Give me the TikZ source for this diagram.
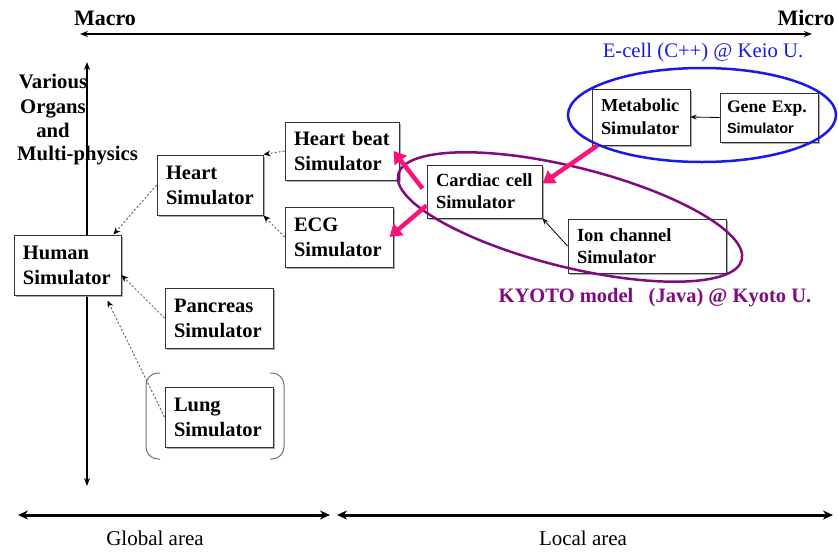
\documentclass[tikz,border=0pt]{standalone}
\usepackage{fontspec}
\setmainfont{Liberation Serif}
\newfontfamily\simsans{Liberation Sans}
\usetikzlibrary{arrows.meta,shadows}

\definecolor{ecellblue}{RGB}{25,25,235}
\definecolor{kyotopurple}{RGB}{128,10,128}
\definecolor{feedpink}{RGB}{250,20,120}

\tikzset{
  simbox/.style={draw=black!80, line width=1pt, fill=white, align=left,
    inner xsep=9pt, inner ysep=3pt, font=\bfseries\fontsize{20.5}{25}\selectfont,
    drop shadow={shadow xshift=1.5pt, shadow yshift=-1.5pt, fill=black!40, opacity=.8}},
  link/.style={black!60, line width=1pt, dash pattern=on 2pt off 2pt,
    -{Stealth[length=7pt,width=6pt,black]}},
  plain/.style={black, line width=0.8pt, -{Stealth[length=6pt,width=5pt]}},
  feed/.style={feedpink, line width=4.5pt, -{Triangle[length=12pt,width=15pt]}},
  scalelabel/.style={font=\bfseries\fontsize{22}{26}\selectfont},
  organlabel/.style={font=\bfseries\fontsize{20.7}{24.7}\selectfont},
  area/.style={line width=3pt, {Stealth[length=10pt,width=9pt]}-{Stealth[length=10pt,width=9pt]}},
}

\begin{document}
\begin{tikzpicture}[x=1pt,y=-1pt]
  \useasboundingbox (0,0) rectangle (838,552);

  % macro / micro scale
  \draw[line width=1.5pt, {Stealth[length=8pt,width=6pt]}-{Stealth[length=8pt,width=6pt]}] (80,34) -- (812,34);
  \node[scalelabel] (macro) at (105,18) {Macro};
  \node[scalelabel] (micro) at (806,18) {Micro};
  \draw[line width=2pt, {Stealth[length=8pt,width=6pt]}-{Stealth[length=8pt,width=6pt]}] (87,62) -- (87,486);
  \node[organlabel, align=center] (organs) at (53,106) {Various\\Organs\\and};
  \node[organlabel, anchor=west, inner xsep=0pt] (physics) at (17,156) {Multi-physics};

  % global and local area
  \draw[area] (18,515) -- (330,515);
  \draw[area] (337,515) -- (833,515);
  \node[font=\fontsize{21}{24}\selectfont] (global) at (155,538) {Global area};
  \node[font=\fontsize{21}{24}\selectfont] (local) at (583,538) {Local area};

  % simulators
  \node[simbox, text width=89pt, minimum height=60pt] (human) at (67.5,265) {Human\\Simulator};
  \node[simbox, text width=88pt, minimum height=60pt] (heart) at (210,185) {Heart\\Simulator};
  \node[simbox, text width=96pt, minimum height=58pt] (beat) at (342,151) {Heart beat\\Simulator};
  \node[simbox, text width=90pt, minimum height=60pt] (ecg) at (339,237) {ECG\\Simulator};
  \node[simbox, text width=90pt, minimum height=60pt] (pancreas) at (219,318) {Pancreas\\Simulator};
  \node[simbox, text width=90pt, minimum height=60pt] (lung) at (219,417) {Lung\\Simulator};
  \node[simbox, text width=97pt, minimum height=53pt, font=\bfseries\fontsize{18.5}{22}\selectfont]
    (cardiac) at (484.5,191.5) {Cardiac cell\\Simulator};
  \node[simbox, text width=140pt, minimum height=54pt, font=\bfseries\fontsize{18.5}{22}\selectfont]
    (ion) at (647,246) {Ion channel\\Simulator};
  \node[simbox, text width=80pt, minimum height=56pt, font=\bfseries\fontsize{18.3}{23}\selectfont]
    (metabolic) at (641,117) {Metabolic\\Simulator};
  \node[simbox, text width=84pt, inner xsep=7pt, minimum height=49pt, font=\bfseries\fontsize{17.6}{21}\selectfont]
    (gene) at (769,117.5) {Gene Exp.\\{\simsans\fontsize{14.5}{18}\selectfont Simulator}};

  % brackets round the lung
  \draw[black!55, line width=1pt, rounded corners=12pt] (160,373) -- (146,373) -- (146,459) -- (160,459);
  \draw[black!55, line width=1pt, rounded corners=12pt] (270,373) -- (284,373) -- (284,459) -- (270,459);

  % links
  \draw[link] (beat.west) -- (heart.north east);
  \draw[link] (ecg.west) -- (heart.south east);
  \draw[link] (heart.west) -- ([xshift=-8pt]human.north east);
  \draw[link] (pancreas.west) -- ([yshift=-10pt]human.east);
  \draw[link] (lung.west) -- ([xshift=-14pt,yshift=-5pt]human.south east);
  \draw[plain] (gene.west) -- (metabolic.east);
  \draw[plain] (ion.west) -- (cardiac.south east);

  % groups
  \draw[ecellblue, line width=2.5pt] (702,115) ellipse [x radius=134, y radius=47];
  \node[text=ecellblue, font=\fontsize{20.7}{24}\selectfont] (ecell) at (703,53) {E-cell (C++) @ Keio U.};
  \draw[kyotopurple, line width=2.5pt, rotate around={-14:(570,217)}] (570,217) ellipse [x radius=177, y radius=50];
  \node[text=kyotopurple, font=\bfseries\fontsize{20.5}{24}\selectfont] (kyoto) at (655,298)
    {KYOTO model\ \ \ (Java) @ Kyoto U.};

  % feeds
  \draw[feed] ([xshift=6pt]metabolic.south west) -- ([yshift=8pt]cardiac.east);
  \draw[feed] ([xshift=-4pt,yshift=3pt]cardiac.west) -- ([xshift=-6pt]beat.east);
  \draw[feed] ([yshift=-14pt]cardiac.west) -- ([xshift=-4pt]ecg.east);
\end{tikzpicture}
\end{document}
